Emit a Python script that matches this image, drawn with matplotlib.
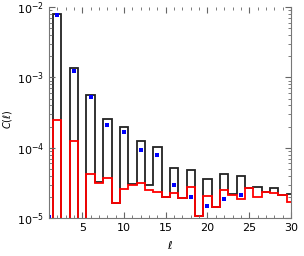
import matplotlib
matplotlib.use("Agg")
import matplotlib.pyplot as plt
import numpy as np
from matplotlib.ticker import MultipleLocator, LogLocator, NullFormatter

TINY = 1e-8  # below the plotted range

ell = np.arange(1, 31)

# total spectrum (black outline)
c_total = [TINY, 8.0e-3, TINY, 1.34e-3, TINY, 5.6e-4, 3.25e-5, 2.53e-4, 1.62e-5, 1.95e-4,
           3.1e-5, 1.26e-4, 2.92e-5, 1.03e-4, 2.0e-5, 5.2e-5, 1.9e-5, 4.8e-5, 1.08e-5, 3.6e-5,
           1.42e-5, 4.3e-5, 2.2e-5, 3.95e-5, 2.7e-5, 2.8e-5, 2.37e-5, 2.64e-5, 2.12e-5, 2.19e-5]

# component spectrum (red outline)
c_part = [TINY, 2.47e-4, TINY, 1.26e-4, TINY, 4.18e-5, 3.11e-5, 3.74e-5, 1.62e-5, 2.56e-5,
          2.95e-5, 3.15e-5, 2.5e-5, 2.37e-5, 2.0e-5, 2.24e-5, 1.9e-5, 2.79e-5, 1.08e-5, 2.07e-5,
          1.42e-5, 2.5e-5, 2.12e-5, 1.85e-5, 2.65e-5, 2.0e-5, 2.37e-5, 2.24e-5, 2.12e-5, 1.71e-5]

# model points (blue squares) at ell = 1, 2, 4, ..., 24
ell_pts = [1, 2, 4, 6, 8, 10, 12, 14, 16, 18, 20, 22, 24]
c_pts = [1.05e-5, 7.7e-3, 1.23e-3, 5.25e-4, 2.1e-4, 1.67e-4, 9.3e-5, 7.9e-5,
         2.94e-5, 2.0e-5, 1.51e-5, 1.85e-5, 2.12e-5]

fig = plt.figure(figsize=(3.04, 2.56), dpi=100)
ax = fig.add_axes([0.161, 0.148, 0.796, 0.825])

edges = np.append(ell - 0.5, ell[-1] + 0.5)
ax.stairs(c_total, edges, baseline=None, color="#222222", linewidth=1.3)
ax.stairs(c_part, edges, baseline=None, color="red", linewidth=1.3)
ax.plot(ell_pts, c_pts, "s", color="blue", markersize=2.3, markeredgewidth=0)

ax.set_yscale("log")
ax.set_xlim(1, 30)
ax.set_ylim(1e-5, 1e-2)

ax.xaxis.set_major_locator(MultipleLocator(5))
ax.xaxis.set_minor_locator(MultipleLocator(1))
ax.yaxis.set_major_locator(LogLocator(base=10))
ax.yaxis.set_minor_locator(LogLocator(base=10, subs=np.arange(2, 10)))
ax.yaxis.set_minor_formatter(NullFormatter())

ax.tick_params(which="both", direction="in", top=True, right=True,
               color="#666666", labelsize=8)
ax.tick_params(which="major", length=4, width=0.8)
ax.tick_params(which="minor", length=2, width=0.6)

for side in ["left", "right", "bottom"]:
    ax.spines[side].set_color("#777777")
    ax.spines[side].set_linewidth(0.8)
ax.spines["top"].set_visible(False)

ax.set_xlabel(r"$\ell$", fontsize=8)
ax.set_ylabel(r"$C(\ell)$", fontsize=7)
ax.yaxis.set_label_coords(-0.145, 0.47)

fig.savefig("out.png", dpi=100)
